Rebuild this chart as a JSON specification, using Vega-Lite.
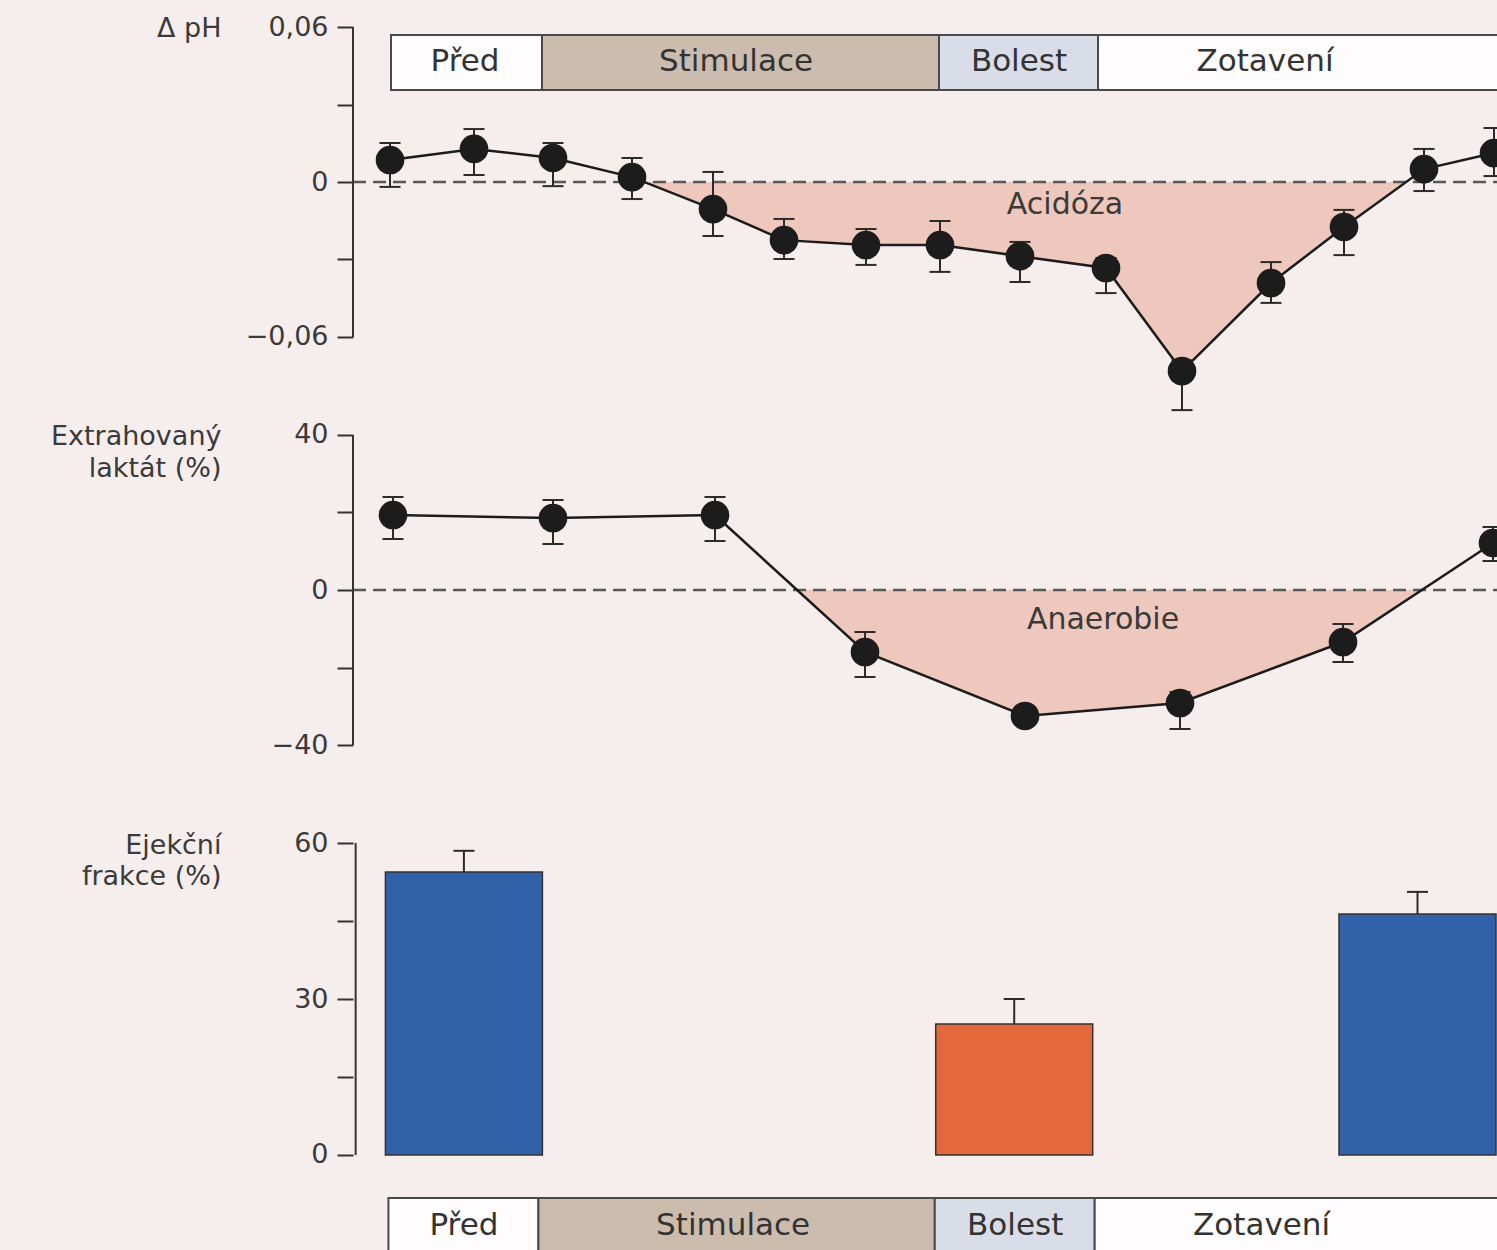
{
  "$schema": "https://vega.github.io/schema/vega-lite/v6.json",
  "background": "#f6eeed",
  "padding": 0,
  "spacing": 0,
  "config": {
    "view": {"stroke": null},
    "font": "DejaVu Sans"
  },
  "datasets": {
    "ph": [
      {"t": 37, "v": 0.0085, "lo": -0.0019, "hi": 0.0151},
      {"t": 121, "v": 0.0128, "lo": 0.0027, "hi": 0.0205},
      {"t": 200, "v": 0.0093, "lo": -0.0016, "hi": 0.0151},
      {"t": 279, "v": 0.0019, "lo": -0.0066, "hi": 0.0093},
      {"t": 360, "v": -0.0105, "lo": -0.0209, "hi": 0.0039},
      {"t": 431, "v": -0.0225, "lo": -0.0298, "hi": -0.0143},
      {"t": 513, "v": -0.0244, "lo": -0.0321, "hi": -0.0182},
      {"t": 587, "v": -0.0244, "lo": -0.0348, "hi": -0.0151},
      {"t": 667, "v": -0.0287, "lo": -0.0387, "hi": -0.0232},
      {"t": 753, "v": -0.0333, "lo": -0.043, "hi": -0.0294},
      {"t": 829, "v": -0.0732, "lo": -0.0883, "hi": -0.069},
      {"t": 918, "v": -0.0391, "lo": -0.0468, "hi": -0.031},
      {"t": 991, "v": -0.0174, "lo": -0.0283, "hi": -0.0108},
      {"t": 1071, "v": 0.005, "lo": -0.0035, "hi": 0.0128},
      {"t": 1141, "v": 0.0112, "lo": 0.0023, "hi": 0.0209}
    ],
    "ph_fill": [
      {"t": 291, "v": 0},
      {"t": 360, "v": -0.0105},
      {"t": 431, "v": -0.0225},
      {"t": 513, "v": -0.0244},
      {"t": 587, "v": -0.0244},
      {"t": 667, "v": -0.0287},
      {"t": 753, "v": -0.0333},
      {"t": 829, "v": -0.0732},
      {"t": 918, "v": -0.0391},
      {"t": 991, "v": -0.0174},
      {"t": 1053, "v": 0}
    ],
    "lac": [
      {"t": 40, "v": 19.35, "lo": 13.16, "hi": 24.0},
      {"t": 200, "v": 18.58, "lo": 11.87, "hi": 23.23},
      {"t": 362, "v": 19.35, "lo": 12.65, "hi": 24.0},
      {"t": 512, "v": -16.0, "lo": -22.45, "hi": -10.84},
      {"t": 672, "v": -32.5, "lo": null, "hi": null},
      {"t": 827, "v": -29.16, "lo": -35.87, "hi": -26.3},
      {"t": 990, "v": -13.42, "lo": -18.58, "hi": -8.77},
      {"t": 1140, "v": 12.13, "lo": 7.48, "hi": 16.26}
    ],
    "lac_fill": [
      {"t": 444, "v": 0},
      {"t": 512, "v": -16.0},
      {"t": 672, "v": -32.5},
      {"t": 827, "v": -29.16},
      {"t": 990, "v": -13.42},
      {"t": 1068, "v": 0}
    ],
    "ef": [
      {"phase": "Před", "mid": 109, "v": 54.4, "hi": 58.5},
      {"phase": "Bolest", "mid": 663, "v": 25.2, "hi": 30.0},
      {"phase": "Zotavení", "mid": 1069, "v": 46.35, "hi": 50.6}
    ],
    "phases_top": [
      {"phase": "Před", "start": 38, "end": 189, "mid": 112},
      {"phase": "Stimulace", "start": 189, "end": 586, "mid": 383},
      {"phase": "Bolest", "start": 586, "end": 745, "mid": 666},
      {"phase": "Zotavení", "start": 745, "end": 1160, "mid": 912}
    ],
    "phases_bottom": [
      {"phase": "Před", "start": 33, "end": 184, "mid": 109},
      {"phase": "Stimulace", "start": 184, "end": 583, "mid": 380},
      {"phase": "Bolest", "start": 583, "end": 744, "mid": 664},
      {"phase": "Zotavení", "start": 744, "end": 1160, "mid": 912}
    ]
  },
  "resolve": {"scale": {"x": "independent", "y": "independent"}},
  "vconcat": [
    {
      "width": 1497,
      "height": 415,
      "layer": [
        {
          "data": {"name": "ph_fill"},
          "mark": {"type": "area", "color": "#efc8bd", "clip": true},
          "encoding": {
            "x": {"field": "t", "type": "quantitative", "scale": {"domain": [-353, 1144], "nice": false, "zero": false}, "axis": null},
            "y": {
              "field": "v", "type": "quantitative",
              "scale": {"domain": [-0.090194, 0.070452], "nice": false, "zero": false},
              "axis": {
                "orient": "left", "offset": -353, "domain": false, "grid": false,
                "values": [-0.06, -0.03, 0, 0.03, 0.06],
                "labelExpr": "abs(datum.value-0.06)<1e-6 ? '0,06' : abs(datum.value+0.06)<1e-6 ? '\u22120,06' : abs(datum.value)<1e-6 ? '0' : ''",
                "tickSize": 16, "tickWidth": 2, "tickColor": "#333333",
                "labelFont": "DejaVu Sans", "labelFontSize": 27, "labelColor": "#3a3a3a", "labelPadding": 9, "labelOverlap": false, "labelBound": false,
                "title": "\u0394 pH", "titleAngle": 0, "titleAlign": "right", "titleBaseline": "alphabetic",
                "titleX": -132, "titleY": 36, "titleFont": "DejaVu Sans", "titleFontSize": 27, "titleFontWeight": "normal", "titleColor": "#3a3a3a"
              }
            },
            "y2": {"datum": 0}
          }
        },
        {
          "data": {"values": [{}]},
          "mark": {"type": "rule", "color": "#595959", "strokeWidth": 2.5, "strokeDash": [13, 7], "clip": true},
          "encoding": {
            "x": {"datum": 0, "type": "quantitative", "axis": null},
            "x2": {"datum": 1144},
            "y": {"datum": 0, "type": "quantitative"}
          }
        },
        {
          "data": {"values": [{}]},
          "mark": {"type": "rule", "color": "#333333", "strokeWidth": 2},
          "encoding": {
            "x": {"datum": 0, "type": "quantitative", "axis": null},
            "y": {"datum": -0.06, "type": "quantitative"},
            "y2": {"datum": 0.06}
          }
        },
        {
          "data": {"name": "phases_top"},
          "mark": {"type": "rect", "stroke": "#4a4a4a", "strokeWidth": 2, "clip": true},
          "encoding": {
            "x": {"field": "start", "type": "quantitative", "axis": null},
            "x2": {"field": "end"},
            "y": {"datum": 0.0569, "type": "quantitative"},
            "y2": {"datum": 0.0356},
            "fill": {"field": "phase", "type": "nominal", "legend": null,
              "scale": {"domain": ["Před", "Stimulace", "Bolest", "Zotavení"], "range": ["#fefcfc", "#ccbcae", "#d9dde7", "#fefcfc"]}}
          }
        },
        {
          "data": {"name": "phases_top"},
          "mark": {"type": "text", "font": "DejaVu Sans", "fontSize": 31, "color": "#333333", "align": "center", "baseline": "middle"},
          "encoding": {
            "x": {"field": "mid", "type": "quantitative", "axis": null},
            "y": {"datum": 0.0465, "type": "quantitative"},
            "text": {"field": "phase"}
          }
        },
        {
          "data": {"name": "ph"},
          "mark": {"type": "line", "color": "#1c1c1c", "strokeWidth": 2.5, "clip": true},
          "encoding": {
            "x": {"field": "t", "type": "quantitative", "axis": null},
            "y": {"field": "v", "type": "quantitative"}
          }
        },
        {
          "data": {"name": "ph"},
          "mark": {"type": "rule", "color": "#2b2b2b", "strokeWidth": 2, "clip": true},
          "encoding": {
            "x": {"field": "t", "type": "quantitative", "axis": null},
            "y": {"field": "lo", "type": "quantitative"},
            "y2": {"field": "hi"}
          }
        },
        {
          "data": {"name": "ph"},
          "mark": {"type": "tick", "orient": "horizontal", "color": "#2b2b2b", "size": 21, "thickness": 2, "opacity": 1, "clip": true},
          "encoding": {
            "x": {"field": "t", "type": "quantitative", "axis": null},
            "y": {"field": "lo", "type": "quantitative"}
          }
        },
        {
          "data": {"name": "ph"},
          "mark": {"type": "tick", "orient": "horizontal", "color": "#2b2b2b", "size": 21, "thickness": 2, "opacity": 1, "clip": true},
          "encoding": {
            "x": {"field": "t", "type": "quantitative", "axis": null},
            "y": {"field": "hi", "type": "quantitative"}
          }
        },
        {
          "data": {"name": "ph"},
          "mark": {"type": "point", "shape": "circle", "filled": true, "size": 820, "color": "#1c1c1c", "opacity": 1, "clip": true},
          "encoding": {
            "x": {"field": "t", "type": "quantitative", "axis": null},
            "y": {"field": "v", "type": "quantitative"}
          }
        },
        {
          "data": {"values": [{"label": "Acidóza", "t": 712, "v": -0.0089}]},
          "mark": {"type": "text", "font": "DejaVu Sans", "fontSize": 30, "color": "#3a3a3a", "align": "center", "baseline": "middle"},
          "encoding": {
            "x": {"field": "t", "type": "quantitative", "axis": null},
            "y": {"field": "v", "type": "quantitative"},
            "text": {"field": "label"}
          }
        }
      ]
    },
    {
      "width": 1497,
      "height": 385,
      "layer": [
        {
          "data": {"name": "lac_fill"},
          "mark": {"type": "area", "color": "#efc8bd", "clip": true},
          "encoding": {
            "x": {"field": "t", "type": "quantitative", "scale": {"domain": [-353, 1144], "nice": false, "zero": false}, "axis": null},
            "y": {
              "field": "v", "type": "quantitative",
              "scale": {"domain": [-54.19, 45.16], "nice": false, "zero": false},
              "axis": {
                "orient": "left", "offset": -353, "domain": false, "grid": false,
                "values": [-40, -20, 0, 20, 40],
                "labelExpr": "datum.value == 40 ? '40' : datum.value == 0 ? '0' : datum.value == -40 ? '\u221240' : ''",
                "tickSize": 16, "tickWidth": 2, "tickColor": "#333333",
                "labelFont": "DejaVu Sans", "labelFontSize": 27, "labelColor": "#3a3a3a", "labelPadding": 9, "labelOverlap": false, "labelBound": false,
                "title": ["Extrahovaný", "laktát (%)"], "titleAngle": 0, "titleAlign": "right", "titleBaseline": "alphabetic",
                "titleX": -132, "titleY": 29, "titleLineHeight": 32, "titleFont": "DejaVu Sans", "titleFontSize": 27, "titleFontWeight": "normal", "titleColor": "#3a3a3a"
              }
            },
            "y2": {"datum": 0}
          }
        },
        {
          "data": {"values": [{}]},
          "mark": {"type": "rule", "color": "#595959", "strokeWidth": 2.5, "strokeDash": [13, 7], "clip": true},
          "encoding": {
            "x": {"datum": 0, "type": "quantitative", "axis": null},
            "x2": {"datum": 1144},
            "y": {"datum": 0, "type": "quantitative"}
          }
        },
        {
          "data": {"values": [{}]},
          "mark": {"type": "rule", "color": "#333333", "strokeWidth": 2},
          "encoding": {
            "x": {"datum": 0, "type": "quantitative", "axis": null},
            "y": {"datum": -40, "type": "quantitative"},
            "y2": {"datum": 40}
          }
        },
        {
          "data": {"name": "lac"},
          "mark": {"type": "line", "color": "#1c1c1c", "strokeWidth": 2.5, "clip": true},
          "encoding": {
            "x": {"field": "t", "type": "quantitative", "axis": null},
            "y": {"field": "v", "type": "quantitative"}
          }
        },
        {
          "data": {"name": "lac"},
          "mark": {"type": "rule", "color": "#2b2b2b", "strokeWidth": 2, "clip": true},
          "encoding": {
            "x": {"field": "t", "type": "quantitative", "axis": null},
            "y": {"field": "lo", "type": "quantitative"},
            "y2": {"field": "hi"}
          }
        },
        {
          "data": {"name": "lac"},
          "mark": {"type": "tick", "orient": "horizontal", "color": "#2b2b2b", "size": 21, "thickness": 2, "opacity": 1, "clip": true},
          "encoding": {
            "x": {"field": "t", "type": "quantitative", "axis": null},
            "y": {"field": "lo", "type": "quantitative"}
          }
        },
        {
          "data": {"name": "lac"},
          "mark": {"type": "tick", "orient": "horizontal", "color": "#2b2b2b", "size": 21, "thickness": 2, "opacity": 1, "clip": true},
          "encoding": {
            "x": {"field": "t", "type": "quantitative", "axis": null},
            "y": {"field": "hi", "type": "quantitative"}
          }
        },
        {
          "data": {"name": "lac"},
          "mark": {"type": "point", "shape": "circle", "filled": true, "size": 820, "color": "#1c1c1c", "opacity": 1, "clip": true},
          "encoding": {
            "x": {"field": "t", "type": "quantitative", "axis": null},
            "y": {"field": "v", "type": "quantitative"}
          }
        },
        {
          "data": {"values": [{"label": "Anaerobie", "t": 750, "v": -7.74}]},
          "mark": {"type": "text", "font": "DejaVu Sans", "fontSize": 30, "color": "#3a3a3a", "align": "center", "baseline": "middle"},
          "encoding": {
            "x": {"field": "t", "type": "quantitative", "axis": null},
            "y": {"field": "v", "type": "quantitative"},
            "text": {"field": "label"}
          }
        }
      ]
    },
    {
      "width": 1497,
      "height": 450,
      "layer": [
        {
          "data": {"name": "ef"},
          "mark": {"type": "bar", "size": 157, "stroke": "#333333", "strokeWidth": 1.5, "clip": true},
          "encoding": {
            "x": {"field": "mid", "type": "quantitative", "scale": {"domain": [-353, 1144], "nice": false, "zero": false}, "axis": null},
            "y": {
              "field": "v", "type": "quantitative",
              "scale": {"domain": [-18.27, 68.27], "nice": false, "zero": false},
              "axis": {
                "orient": "left", "offset": -353, "domain": false, "grid": false,
                "values": [0, 15, 30, 45, 60],
                "labelExpr": "datum.value % 30 == 0 ? datum.label : ''",
                "tickSize": 16, "tickWidth": 2, "tickColor": "#333333",
                "labelFont": "DejaVu Sans", "labelFontSize": 27, "labelColor": "#3a3a3a", "labelPadding": 9, "labelOverlap": false, "labelBound": false,
                "title": ["Ejekční", "frakce (%)"], "titleAngle": 0, "titleAlign": "right", "titleBaseline": "alphabetic",
                "titleX": -132, "titleY": 53, "titleLineHeight": 31, "titleFont": "DejaVu Sans", "titleFontSize": 27, "titleFontWeight": "normal", "titleColor": "#3a3a3a"
              }
            },
            "y2": {"datum": 0},
            "color": {"field": "phase", "type": "nominal", "legend": null,
              "scale": {"domain": ["Před", "Bolest", "Zotavení"], "range": ["#3162a9", "#e3683b", "#3162a9"]}}
          }
        },
        {
          "data": {"values": [{}]},
          "mark": {"type": "rule", "color": "#333333", "strokeWidth": 2},
          "encoding": {
            "x": {"datum": 0, "type": "quantitative", "axis": null},
            "y": {"datum": 0, "type": "quantitative"},
            "y2": {"datum": 60}
          }
        },
        {
          "data": {"name": "ef"},
          "mark": {"type": "rule", "color": "#2b2b2b", "strokeWidth": 2, "clip": true},
          "encoding": {
            "x": {"field": "mid", "type": "quantitative", "axis": null},
            "y": {"field": "v", "type": "quantitative"},
            "y2": {"field": "hi"}
          }
        },
        {
          "data": {"name": "ef"},
          "mark": {"type": "tick", "orient": "horizontal", "color": "#2b2b2b", "size": 21, "thickness": 2, "opacity": 1, "clip": true},
          "encoding": {
            "x": {"field": "mid", "type": "quantitative", "axis": null},
            "y": {"field": "hi", "type": "quantitative"}
          }
        },
        {
          "data": {"name": "phases_bottom"},
          "mark": {"type": "rect", "stroke": "#4a4a4a", "strokeWidth": 2, "clip": true},
          "encoding": {
            "x": {"field": "start", "type": "quantitative", "axis": null},
            "x2": {"field": "end"},
            "y": {"datum": -8.27, "type": "quantitative"},
            "y2": {"datum": -22},
            "fill": {"field": "phase", "type": "nominal", "legend": null,
              "scale": {"domain": ["Před", "Stimulace", "Bolest", "Zotavení"], "range": ["#fefcfc", "#ccbcae", "#d9dde7", "#fefcfc"]}}
          }
        },
        {
          "data": {"name": "phases_bottom"},
          "mark": {"type": "text", "font": "DejaVu Sans", "fontSize": 31, "color": "#333333", "align": "center", "baseline": "middle"},
          "encoding": {
            "x": {"field": "mid", "type": "quantitative", "axis": null},
            "y": {"datum": -13.65, "type": "quantitative"},
            "text": {"field": "phase"}
          }
        }
      ]
    }
  ]
}
